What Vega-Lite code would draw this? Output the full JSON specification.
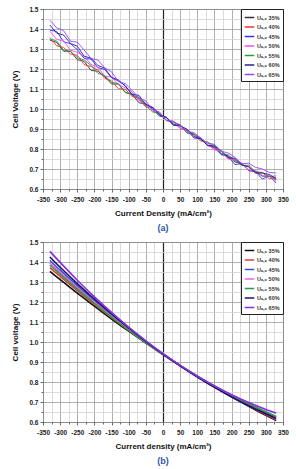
{
  "$schema": "https://vega.github.io/schema/vega-lite/v6.json",
  "padding": {"left": 11, "right": 0, "top": 5, "bottom": 0},
  "spacing": 5,
  "config": {
    "font": "Liberation Sans",
    "view": {"stroke": "#555", "strokeWidth": 1},
    "axis": {
      "grid": true,
      "labelFont": "Liberation Sans", "labelFontSize": 6.5, "labelFontWeight": "bold", "labelColor": "#222",
      "titleFont": "Liberation Sans", "titleFontSize": 8, "titleFontWeight": "bold", "titleColor": "#111",
      "domain": false, "tickColor": "#444", "tickSize": 3, "tickWidth": 0.8,
      "gridColor": "#9a9a9a", "gridWidth": 0.8, "labelOverlap": false, "labelFlush": false
    },
    "axisX": {"labelPadding": 4, "titlePadding": 7},
    "axisY": {"labelPadding": 2, "titlePadding": 9},
    "legend": {
      "orient": "top-right", "offset": 0, "padding": 3, "strokeColor": "#222", "fillColor": "white",
      "labelFont": "Liberation Sans", "labelFontSize": 5.5, "labelFontWeight": "bold", "labelColor": "#333",
      "symbolType": "stroke", "symbolSize": 90, "symbolStrokeWidth": 1.5, "rowPadding": 0.5, "labelOffset": 2
    },
    "title": {"orient": "bottom", "color": "#2e5aa8", "fontSize": 9, "fontWeight": "bold", "font": "Liberation Sans", "offset": 6}
  },
  "resolve": {"scale": {"color": "independent", "x": "independent", "y": "independent"}, "legend": {"color": "independent"}},
  "datasets": {
    "measured": [
      {"s":"35%","x":-330,"v":1.344},{"s":"35%","x":-310,"v":1.333},{"s":"35%","x":-290,"v":1.289},{"s":"35%","x":-270,"v":1.289},{"s":"35%","x":-250,"v":1.247},{"s":"35%","x":-230,"v":1.238},{"s":"35%","x":-210,"v":1.193},{"s":"35%","x":-190,"v":1.189},{"s":"35%","x":-170,"v":1.162},{"s":"35%","x":-150,"v":1.125},{"s":"35%","x":-130,"v":1.125},{"s":"35%","x":-110,"v":1.082},{"s":"35%","x":-90,"v":1.073},{"s":"35%","x":-70,"v":1.031},{"s":"35%","x":-50,"v":1.025},{"s":"35%","x":-30,"v":0.998},{"s":"35%","x":-10,"v":0.964},{"s":"35%","x":10,"v":0.958},{"s":"35%","x":30,"v":0.925},{"s":"35%","x":50,"v":0.919},{"s":"35%","x":70,"v":0.881},{"s":"35%","x":90,"v":0.872},{"s":"35%","x":110,"v":0.854},{"s":"35%","x":130,"v":0.818},{"s":"35%","x":150,"v":0.806},{"s":"35%","x":170,"v":0.772},{"s":"35%","x":190,"v":0.766},{"s":"35%","x":210,"v":0.735},{"s":"35%","x":230,"v":0.726},{"s":"35%","x":250,"v":0.692},{"s":"35%","x":270,"v":0.688},{"s":"35%","x":290,"v":0.664},{"s":"35%","x":310,"v":0.664},{"s":"35%","x":330,"v":0.647},
      {"s":"40%","x":-330,"v":1.357},{"s":"40%","x":-310,"v":1.316},{"s":"40%","x":-290,"v":1.308},{"s":"40%","x":-270,"v":1.275},{"s":"40%","x":-250,"v":1.269},{"s":"40%","x":-230,"v":1.222},{"s":"40%","x":-210,"v":1.213},{"s":"40%","x":-190,"v":1.195},{"s":"40%","x":-170,"v":1.154},{"s":"40%","x":-150,"v":1.140},{"s":"40%","x":-130,"v":1.101},{"s":"40%","x":-110,"v":1.099},{"s":"40%","x":-90,"v":1.063},{"s":"40%","x":-70,"v":1.050},{"s":"40%","x":-50,"v":1.009},{"s":"40%","x":-30,"v":1.007},{"s":"40%","x":-10,"v":0.976},{"s":"40%","x":10,"v":0.942},{"s":"40%","x":30,"v":0.938},{"s":"40%","x":50,"v":0.902},{"s":"40%","x":70,"v":0.894},{"s":"40%","x":90,"v":0.875},{"s":"40%","x":110,"v":0.839},{"s":"40%","x":130,"v":0.835},{"s":"40%","x":150,"v":0.801},{"s":"40%","x":170,"v":0.788},{"s":"40%","x":190,"v":0.754},{"s":"40%","x":210,"v":0.749},{"s":"40%","x":230,"v":0.720},{"s":"40%","x":250,"v":0.710},{"s":"40%","x":270,"v":0.678},{"s":"40%","x":290,"v":0.683},{"s":"40%","x":310,"v":0.651},{"s":"40%","x":330,"v":0.659},
      {"s":"45%","x":-330,"v":1.394},{"s":"45%","x":-310,"v":1.388},{"s":"45%","x":-290,"v":1.336},{"s":"45%","x":-270,"v":1.327},{"s":"45%","x":-250,"v":1.297},{"s":"45%","x":-230,"v":1.253},{"s":"45%","x":-210,"v":1.250},{"s":"45%","x":-190,"v":1.207},{"s":"45%","x":-170,"v":1.198},{"s":"45%","x":-150,"v":1.156},{"s":"45%","x":-130,"v":1.140},{"s":"45%","x":-110,"v":1.117},{"s":"45%","x":-90,"v":1.069},{"s":"45%","x":-70,"v":1.058},{"s":"45%","x":-50,"v":1.019},{"s":"45%","x":-30,"v":1.006},{"s":"45%","x":-10,"v":0.971},{"s":"45%","x":10,"v":0.959},{"s":"45%","x":30,"v":0.920},{"s":"45%","x":50,"v":0.915},{"s":"45%","x":70,"v":0.898},{"s":"45%","x":90,"v":0.855},{"s":"45%","x":110,"v":0.851},{"s":"45%","x":130,"v":0.819},{"s":"45%","x":150,"v":0.813},{"s":"45%","x":170,"v":0.774},{"s":"45%","x":190,"v":0.762},{"s":"45%","x":210,"v":0.722},{"s":"45%","x":230,"v":0.727},{"s":"45%","x":250,"v":0.693},{"s":"45%","x":270,"v":0.687},{"s":"45%","x":290,"v":0.649},{"s":"45%","x":310,"v":0.667},{"s":"45%","x":330,"v":0.630},
      {"s":"50%","x":-330,"v":1.389},{"s":"50%","x":-310,"v":1.348},{"s":"50%","x":-290,"v":1.341},{"s":"50%","x":-270,"v":1.294},{"s":"50%","x":-250,"v":1.283},{"s":"50%","x":-230,"v":1.263},{"s":"50%","x":-210,"v":1.223},{"s":"50%","x":-190,"v":1.209},{"s":"50%","x":-170,"v":1.164},{"s":"50%","x":-150,"v":1.160},{"s":"50%","x":-130,"v":1.122},{"s":"50%","x":-110,"v":1.106},{"s":"50%","x":-90,"v":1.086},{"s":"50%","x":-70,"v":1.041},{"s":"50%","x":-50,"v":1.028},{"s":"50%","x":-30,"v":0.988},{"s":"50%","x":-10,"v":0.980},{"s":"50%","x":10,"v":0.943},{"s":"50%","x":30,"v":0.941},{"s":"50%","x":50,"v":0.905},{"s":"50%","x":70,"v":0.895},{"s":"50%","x":90,"v":0.859},{"s":"50%","x":110,"v":0.856},{"s":"50%","x":130,"v":0.822},{"s":"50%","x":150,"v":0.796},{"s":"50%","x":170,"v":0.789},{"s":"50%","x":190,"v":0.750},{"s":"50%","x":210,"v":0.744},{"s":"50%","x":230,"v":0.729},{"s":"50%","x":250,"v":0.690},{"s":"50%","x":270,"v":0.693},{"s":"50%","x":290,"v":0.667},{"s":"50%","x":310,"v":0.664},{"s":"50%","x":330,"v":0.642},
      {"s":"55%","x":-330,"v":1.351},{"s":"55%","x":-310,"v":1.340},{"s":"55%","x":-290,"v":1.294},{"s":"55%","x":-270,"v":1.289},{"s":"55%","x":-250,"v":1.257},{"s":"55%","x":-230,"v":1.245},{"s":"55%","x":-210,"v":1.218},{"s":"55%","x":-190,"v":1.178},{"s":"55%","x":-170,"v":1.167},{"s":"55%","x":-150,"v":1.134},{"s":"55%","x":-130,"v":1.126},{"s":"55%","x":-110,"v":1.084},{"s":"55%","x":-90,"v":1.072},{"s":"55%","x":-70,"v":1.053},{"s":"55%","x":-50,"v":1.016},{"s":"55%","x":-30,"v":0.985},{"s":"55%","x":-10,"v":0.980},{"s":"55%","x":10,"v":0.942},{"s":"55%","x":30,"v":0.933},{"s":"55%","x":50,"v":0.922},{"s":"55%","x":70,"v":0.880},{"s":"55%","x":90,"v":0.877},{"s":"55%","x":110,"v":0.845},{"s":"55%","x":130,"v":0.834},{"s":"55%","x":150,"v":0.818},{"s":"55%","x":170,"v":0.778},{"s":"55%","x":190,"v":0.771},{"s":"55%","x":210,"v":0.742},{"s":"55%","x":230,"v":0.718},{"s":"55%","x":250,"v":0.719},{"s":"55%","x":270,"v":0.686},{"s":"55%","x":290,"v":0.683},{"s":"55%","x":310,"v":0.661},{"s":"55%","x":330,"v":0.666},
      {"s":"60%","x":-330,"v":1.420},{"s":"60%","x":-310,"v":1.379},{"s":"60%","x":-290,"v":1.370},{"s":"60%","x":-270,"v":1.328},{"s":"60%","x":-250,"v":1.314},{"s":"60%","x":-230,"v":1.264},{"s":"60%","x":-210,"v":1.254},{"s":"60%","x":-190,"v":1.218},{"s":"60%","x":-170,"v":1.204},{"s":"60%","x":-150,"v":1.158},{"s":"60%","x":-130,"v":1.145},{"s":"60%","x":-110,"v":1.115},{"s":"60%","x":-90,"v":1.074},{"s":"60%","x":-70,"v":1.068},{"s":"60%","x":-50,"v":1.023},{"s":"60%","x":-30,"v":1.009},{"s":"60%","x":-10,"v":0.970},{"s":"60%","x":10,"v":0.957},{"s":"60%","x":30,"v":0.919},{"s":"60%","x":50,"v":0.917},{"s":"60%","x":70,"v":0.898},{"s":"60%","x":90,"v":0.863},{"s":"60%","x":110,"v":0.851},{"s":"60%","x":130,"v":0.817},{"s":"60%","x":150,"v":0.815},{"s":"60%","x":170,"v":0.791},{"s":"60%","x":190,"v":0.757},{"s":"60%","x":210,"v":0.753},{"s":"60%","x":230,"v":0.720},{"s":"60%","x":250,"v":0.712},{"s":"60%","x":270,"v":0.681},{"s":"60%","x":290,"v":0.679},{"s":"60%","x":310,"v":0.673},{"s":"60%","x":330,"v":0.652},
      {"s":"65%","x":-330,"v":1.444},{"s":"65%","x":-310,"v":1.406},{"s":"65%","x":-290,"v":1.392},{"s":"65%","x":-270,"v":1.339},{"s":"65%","x":-250,"v":1.334},{"s":"65%","x":-230,"v":1.295},{"s":"65%","x":-210,"v":1.253},{"s":"65%","x":-190,"v":1.245},{"s":"65%","x":-170,"v":1.206},{"s":"65%","x":-150,"v":1.186},{"s":"65%","x":-130,"v":1.137},{"s":"65%","x":-110,"v":1.127},{"s":"65%","x":-90,"v":1.093},{"s":"65%","x":-70,"v":1.056},{"s":"65%","x":-50,"v":1.040},{"s":"65%","x":-30,"v":0.997},{"s":"65%","x":-10,"v":0.985},{"s":"65%","x":10,"v":0.943},{"s":"65%","x":30,"v":0.937},{"s":"65%","x":50,"v":0.919},{"s":"65%","x":70,"v":0.888},{"s":"65%","x":90,"v":0.882},{"s":"65%","x":110,"v":0.856},{"s":"65%","x":130,"v":0.827},{"s":"65%","x":150,"v":0.824},{"s":"65%","x":170,"v":0.789},{"s":"65%","x":190,"v":0.780},{"s":"65%","x":210,"v":0.758},{"s":"65%","x":230,"v":0.726},{"s":"65%","x":250,"v":0.729},{"s":"65%","x":270,"v":0.708},{"s":"65%","x":290,"v":0.700},{"s":"65%","x":310,"v":0.683},{"s":"65%","x":330,"v":0.680}
    ],
    "model": [
      {"s":"35%","x":-330,"v":1.353},{"s":"35%","x":-300,"v":1.312},{"s":"35%","x":-250,"v":1.244},{"s":"35%","x":-200,"v":1.179},{"s":"35%","x":-150,"v":1.115},{"s":"35%","x":-100,"v":1.054},{"s":"35%","x":-50,"v":0.995},{"s":"35%","x":0,"v":0.937},{"s":"35%","x":50,"v":0.882},{"s":"35%","x":100,"v":0.828},{"s":"35%","x":150,"v":0.776},{"s":"35%","x":200,"v":0.727},{"s":"35%","x":250,"v":0.679},{"s":"35%","x":300,"v":0.633},{"s":"35%","x":330,"v":0.607},
      {"s":"40%","x":-330,"v":1.372},{"s":"40%","x":-300,"v":1.328},{"s":"40%","x":-250,"v":1.257},{"s":"40%","x":-200,"v":1.188},{"s":"40%","x":-150,"v":1.122},{"s":"40%","x":-100,"v":1.058},{"s":"40%","x":-50,"v":0.997},{"s":"40%","x":0,"v":0.938},{"s":"40%","x":50,"v":0.882},{"s":"40%","x":100,"v":0.828},{"s":"40%","x":150,"v":0.776},{"s":"40%","x":200,"v":0.728},{"s":"40%","x":250,"v":0.681},{"s":"40%","x":300,"v":0.637},{"s":"40%","x":330,"v":0.612},
      {"s":"45%","x":-330,"v":1.408},{"s":"45%","x":-300,"v":1.359},{"s":"45%","x":-250,"v":1.281},{"s":"45%","x":-200,"v":1.205},{"s":"45%","x":-150,"v":1.134},{"s":"45%","x":-100,"v":1.066},{"s":"45%","x":-50,"v":1.001},{"s":"45%","x":0,"v":0.940},{"s":"45%","x":50,"v":0.882},{"s":"45%","x":100,"v":0.828},{"s":"45%","x":150,"v":0.778},{"s":"45%","x":200,"v":0.731},{"s":"45%","x":250,"v":0.687},{"s":"45%","x":300,"v":0.647},{"s":"45%","x":330,"v":0.625},
      {"s":"50%","x":-330,"v":1.395},{"s":"50%","x":-300,"v":1.348},{"s":"50%","x":-250,"v":1.272},{"s":"50%","x":-200,"v":1.199},{"s":"50%","x":-150,"v":1.129},{"s":"50%","x":-100,"v":1.063},{"s":"50%","x":-50,"v":0.999},{"s":"50%","x":0,"v":0.939},{"s":"50%","x":50,"v":0.882},{"s":"50%","x":100,"v":0.828},{"s":"50%","x":150,"v":0.777},{"s":"50%","x":200,"v":0.729},{"s":"50%","x":250,"v":0.685},{"s":"50%","x":300,"v":0.643},{"s":"50%","x":330,"v":0.620},
      {"s":"55%","x":-330,"v":1.385},{"s":"55%","x":-300,"v":1.339},{"s":"55%","x":-250,"v":1.264},{"s":"55%","x":-200,"v":1.193},{"s":"55%","x":-150,"v":1.124},{"s":"55%","x":-100,"v":1.059},{"s":"55%","x":-50,"v":0.997},{"s":"55%","x":0,"v":0.938},{"s":"55%","x":50,"v":0.882},{"s":"55%","x":100,"v":0.830},{"s":"55%","x":150,"v":0.780},{"s":"55%","x":200,"v":0.734},{"s":"55%","x":250,"v":0.691},{"s":"55%","x":300,"v":0.651},{"s":"55%","x":330,"v":0.628},
      {"s":"60%","x":-330,"v":1.425},{"s":"60%","x":-300,"v":1.374},{"s":"60%","x":-250,"v":1.292},{"s":"60%","x":-200,"v":1.214},{"s":"60%","x":-150,"v":1.140},{"s":"60%","x":-100,"v":1.070},{"s":"60%","x":-50,"v":1.003},{"s":"60%","x":0,"v":0.940},{"s":"60%","x":50,"v":0.881},{"s":"60%","x":100,"v":0.825},{"s":"60%","x":150,"v":0.773},{"s":"60%","x":200,"v":0.725},{"s":"60%","x":250,"v":0.681},{"s":"60%","x":300,"v":0.641},{"s":"60%","x":330,"v":0.618},
      {"s":"65%","x":-330,"v":1.453},{"s":"65%","x":-300,"v":1.398},{"s":"65%","x":-250,"v":1.309},{"s":"65%","x":-200,"v":1.226},{"s":"65%","x":-150,"v":1.148},{"s":"65%","x":-100,"v":1.074},{"s":"65%","x":-50,"v":1.006},{"s":"65%","x":0,"v":0.942},{"s":"65%","x":50,"v":0.883},{"s":"65%","x":100,"v":0.829},{"s":"65%","x":150,"v":0.780},{"s":"65%","x":200,"v":0.736},{"s":"65%","x":250,"v":0.697},{"s":"65%","x":300,"v":0.663},{"s":"65%","x":330,"v":0.645}
    ]
  },
  "vconcat": [
    {
      "width": 240,
      "height": 180,
      "title": "(a)",
      "data": {"name": "measured"},
      "resolve": {"axis": {"x": "independent", "y": "independent"}},
      "layer": [
        {
          "mark": {"type": "line", "opacity": 0},
          "encoding": {
            "x": {"field": "x", "type": "quantitative", "scale": {"domain": [-350, 350], "nice": false},
                  "axis": {"orient": "bottom", "grid": true, "values": [-325,-275,-225,-175,-125,-75,-25,25,75,125,175,225,275,325], "labels": false, "title": null, "tickSize": 2, "gridColor": "#d2d2d2"}},
            "y": {"field": "v", "type": "quantitative", "scale": {"domain": [0.6, 1.5], "nice": false, "zero": false},
                  "axis": {"orient": "left", "grid": true, "values": [0.65,0.75,0.85,0.95,1.05,1.15,1.25,1.35,1.45], "labels": false, "title": null, "tickSize": 2, "gridColor": "#d2d2d2"}}
          }
        },
        {
          "mark": {"type": "line", "strokeWidth": 0.9},
          "encoding": {
            "x": {"field": "x", "type": "quantitative",
                  "axis": {"orient": "bottom", "grid": true, "values": [-350,-300,-250,-200,-150,-100,-50,0,50,100,150,200,250,300,350], "title": "Current Density (mA/cm²)",
                           "labelExpr": "replace(datum.label, '−', '-')",
                           "gridColor": {"condition": {"test": "datum.value === 0", "value": "#222"}, "value": "#9a9a9a"},
                           "gridWidth": {"condition": {"test": "datum.value === 0", "value": 1.2}, "value": 0.8}}},
            "y": {"field": "v", "type": "quantitative",
                  "axis": {"orient": "left", "grid": true, "values": [0.6,0.7,0.8,0.9,1.0,1.1,1.2,1.3,1.4,1.5], "format": ".1f", "title": "Cell Voltage (V)"}},
            "color": {"field": "s", "type": "nominal",
                      "scale": {"domain": ["35%","40%","45%","50%","55%","60%","65%"], "range": ["#333333","#ff3030","#3030ff","#ff44ff","#22a040","#202090","#a040ff"]},
                      "legend": {"title": null, "labelExpr": "'Uₐ,₀ ' + datum.label"}}
          }
        }
      ]
    },
    {
      "width": 240,
      "height": 180,
      "title": "(b)",
      "data": {"name": "model"},
      "resolve": {"axis": {"x": "independent", "y": "independent"}},
      "layer": [
        {
          "mark": {"type": "line", "opacity": 0},
          "encoding": {
            "x": {"field": "x", "type": "quantitative", "scale": {"domain": [-350, 350], "nice": false},
                  "axis": {"orient": "bottom", "grid": true, "values": [-325,-275,-225,-175,-125,-75,-25,25,75,125,175,225,275,325], "labels": false, "title": null, "tickSize": 2, "gridColor": "#d2d2d2"}},
            "y": {"field": "v", "type": "quantitative", "scale": {"domain": [0.6, 1.5], "nice": false, "zero": false},
                  "axis": {"orient": "left", "grid": true, "values": [0.65,0.75,0.85,0.95,1.05,1.15,1.25,1.35,1.45], "labels": false, "title": null, "tickSize": 2, "gridColor": "#d2d2d2"}}
          }
        },
        {
          "mark": {"type": "line", "strokeWidth": 1.6, "interpolate": "monotone"},
          "encoding": {
            "x": {"field": "x", "type": "quantitative",
                  "axis": {"orient": "bottom", "grid": true, "values": [-350,-300,-250,-200,-150,-100,-50,0,50,100,150,200,250,300,350], "title": "Current density (mA/cm²)",
                           "labelExpr": "replace(datum.label, '−', '-')",
                           "gridColor": {"condition": {"test": "datum.value === 0", "value": "#222"}, "value": "#9a9a9a"},
                           "gridWidth": {"condition": {"test": "datum.value === 0", "value": 1.2}, "value": 0.8}}},
            "y": {"field": "v", "type": "quantitative",
                  "axis": {"orient": "left", "grid": true, "values": [0.6,0.7,0.8,0.9,1.0,1.1,1.2,1.3,1.4,1.5], "format": ".1f", "title": "Cell voltage (V)"}},
            "color": {"field": "s", "type": "nominal",
                      "scale": {"domain": ["35%","40%","45%","50%","55%","60%","65%"], "range": ["#111111","#e03c3c","#3d4fd6","#f060e0","#2a9a4a","#141466","#8b2be2"]},
                      "legend": {"title": null, "labelExpr": "'Uₐ,₀ ' + datum.label"}}
          }
        }
      ]
    }
  ]
}
